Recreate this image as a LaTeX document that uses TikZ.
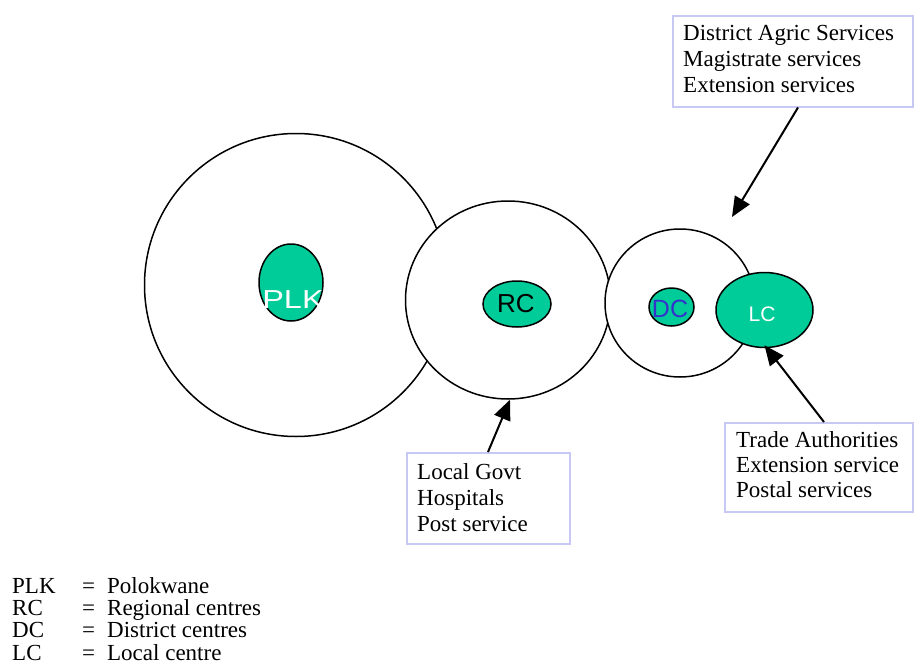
\documentclass[tikz,border=0pt]{standalone}
\usepackage{fontspec}
\usepackage{graphicx}
\setmainfont{Liberation Serif}
\newfontfamily\arialf{Liberation Sans}
\usetikzlibrary{shapes.geometric,arrows.meta,calc}
\definecolor{centrefill}{RGB}{0,204,153}
\definecolor{boxline}{RGB}{200,200,245}
\definecolor{dcblue}{RGB}{51,51,204}
\begin{document}
\begin{tikzpicture}[x=1pt,y=-1pt,
  ring/.style={ellipse, draw=black, line width=1.5pt, fill=white, inner sep=0pt},
  centre/.style={ellipse, draw=black, line width=1.5pt, fill=centrefill, inner sep=0pt},
  infobox/.style={rectangle, draw=boxline, line width=1.5pt, fill=white, inner sep=0pt, anchor=north west},
  boxtext/.style={anchor=base west, inner sep=0pt, font=\fontsize{23}{26}\selectfont},
  legendtext/.style={anchor=base west, inner sep=0pt, font=\fontsize{23}{22}\selectfont},
  sanslabel/.style={anchor=base, inner sep=0pt},
  pointer/.style={draw=black, line width=2pt, -{Triangle[length=20pt,width=17pt]}}
]
\useasboundingbox (0,0) rectangle (914,672);

% rings
\node[ring, minimum width=303pt, minimum height=303pt] (plkring) at (296,285) {};
\node[ring, minimum width=205pt, minimum height=198pt] (rcring) at (508,300) {};
\node[ring, minimum width=150pt, minimum height=148pt] (dcring) at (680,303) {};

% centres
\node[centre, minimum width=64pt, minimum height=77pt] (plk) at (291,282.5) {};
\node[sanslabel, text=white, font=\arialf\fontsize{26}{30}\selectfont] (plklabel) at (293,308) {\scalebox{1.25}[1]{PLK}};
\node[centre, minimum width=68pt, minimum height=46pt] (rc) at (517,304) {};
\node[sanslabel, text=black, font=\arialf\fontsize{26}{30}\selectfont] (rclabel) at (516,312) {RC};
\node[centre, minimum width=45pt, minimum height=38pt] (dc) at (671.5,307) {};
\node[sanslabel, text=dcblue, font=\arialf\fontsize{25}{30}\selectfont] (dclabel) at (670,317) {DC};
\node[centre, minimum width=97pt, minimum height=75pt] (lc) at (764.5,310) {};
\node[sanslabel, text=white, font=\arialf\fontsize{21}{24}\selectfont] (lclabel) at (762,321) {LC};

% info boxes
\node[infobox, minimum width=240pt, minimum height=91pt] (topbox) at (672,15) {};
\node[boxtext] (toptext) at (683,40.7) {\begin{tabular}[t]{@{}l@{}}District Agric Services\\Magistrate services\\Extension services\end{tabular}};

\node[infobox, minimum width=163pt, minimum height=91pt] (rcbox) at (406,452) {};
\node[boxtext] (rctext) at (417,479) {\begin{tabular}[t]{@{}l@{}}Local Govt\\Hospitals\\Post service\end{tabular}};

\node[infobox, minimum width=188pt, minimum height=89pt] (lcbox) at (724,422) {};
\node[boxtext, font=\fontsize{23}{25}\selectfont] (lctext) at (736,447) {\begin{tabular}[t]{@{}l@{}}Trade Authorities\\Extension service\\Postal services\end{tabular}};

% arrows
\coordinate (dctip) at (732,217);
\draw[pointer] ($(topbox.south west)+(126,0)$) -- (dctip);
\draw[pointer] ($(rcbox.north west)+(82,0)$) -- ($(rcring.south)+(2,0)$);
\draw[pointer] ($(lcbox.north west)+(100,0)$) -- ($(lc.south)+(0,-3)$);

% legend
\node[legendtext] (legend) at (12,593) {\begin{tabular}[t]{@{}p{70pt}@{}p{25pt}@{}l@{}}PLK&=&Polokwane\\RC&=&Regional centres\\DC&=&District centres\\LC&=&Local centre\end{tabular}};
\end{tikzpicture}
\end{document}
